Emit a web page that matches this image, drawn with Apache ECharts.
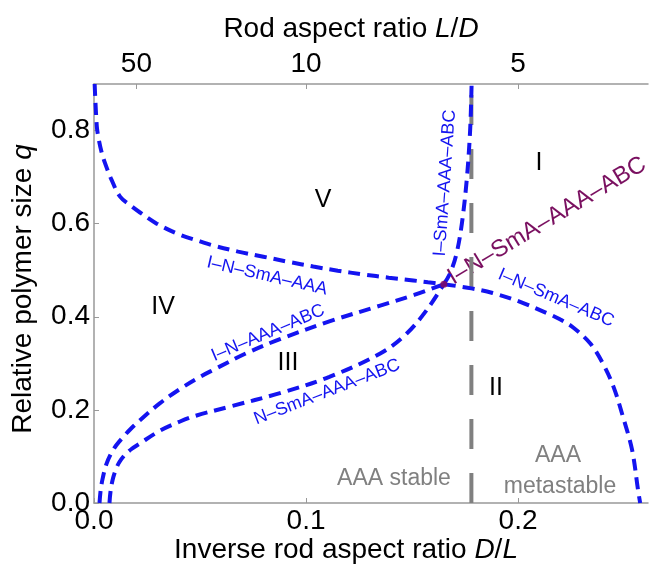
<!DOCTYPE html>
<html><head><meta charset="utf-8">
<script src="https://cdn.jsdelivr.net/npm/echarts@6/dist/echarts.min.js"></script>
<style>html,body{margin:0;padding:0;background:#fff}#c{width:650px;height:573px}</style>
</head><body><div id="c"></div>
<script>
// ---- data (D/L, q) ----
const inSmaAaaX = [0.0003, 0.0013, 0.002, 0.0035, 0.0052, 0.0083, 0.0123, 0.0175, 0.0217, 0.0296, 0.0406, 0.05, 0.0563, 0.068, 0.0799, 0.0917, 0.1034, 0.115, 0.127, 0.139, 0.1506, 0.1575, 0.165];
const inSmaAaaQ = [0.9, 0.81, 0.787, 0.755, 0.73, 0.694, 0.658, 0.638, 0.624, 0.600, 0.576, 0.562, 0.553, 0.54, 0.529, 0.518, 0.508, 0.499, 0.491, 0.484, 0.478, 0.474, 0.47];
const inSmaAbcX = [0.165, 0.178, 0.188, 0.201, 0.215, 0.22, 0.226, 0.234, 0.240, 0.245, 0.2495, 0.2538, 0.2566, 0.2576];
const inSmaAbcQ = [0.47, 0.461, 0.451, 0.432, 0.405, 0.394, 0.377, 0.343, 0.30, 0.25, 0.185, 0.114, 0.028, 0.0];
const inAaaAbcX = [0.0026, 0.0032, 0.0042, 0.0058, 0.008, 0.0105, 0.0138, 0.0175, 0.0217, 0.031, 0.0406, 0.05, 0.0563, 0.072, 0.0877, 0.111, 0.135, 0.151, 0.165];
const inAaaAbcQ = [0, 0.03, 0.055, 0.083, 0.106, 0.124, 0.142, 0.16, 0.178, 0.214, 0.245, 0.271, 0.286, 0.322, 0.352, 0.39, 0.424, 0.447, 0.47];
const nSmaAaaAbcX = [0.0073, 0.0078, 0.0088, 0.0103, 0.012, 0.0145, 0.0177, 0.0217, 0.031, 0.0406, 0.0484, 0.064, 0.0877, 0.111, 0.135, 0.1475, 0.157, 0.165];
const nSmaAaaAbcQ = [0, 0.025, 0.05, 0.072, 0.088, 0.103, 0.116, 0.128, 0.155, 0.175, 0.188, 0.207, 0.236, 0.271, 0.321, 0.364, 0.415, 0.47];
const iSmaAaaAbcX = [0.165, 0.168, 0.171, 0.1735, 0.1758, 0.1774, 0.1781];
const iSmaAaaAbcQ = [0.47, 0.494, 0.536, 0.6, 0.694, 0.80, 0.9];
const quadPoint = [0.165, 0.47];
const aaaBoundaryX = [0.178, 0.178];
const aaaBoundaryQ = [0, 0.9];
const bottomTicks = [0, 0.1, 0.2];
const topTickLD = [50, 10, 5];
const yTicks = [0, 0.2, 0.4, 0.6, 0.8];

const zip = (xs, ys) => xs.map((x, i) => [x, ys[i]]);
const FONT = 'Liberation Sans, Arial, sans-serif';
const BLUE = '#1414f0';
const XMAX = 0.2613;
const TICK_FS = 28, TITLE_FS = 28;

const chart = echarts.init(document.getElementById('c'));
const blueLine = (name, xs, ys) => ({
  name, type: 'line', data: zip(xs, ys), showSymbol: false, symbol: 'none',
  smooth: 0.35, z: 3,
  lineStyle: {color: BLUE, width: 4, type: [12, 7], cap: 'butt'}
});
const richTitle = {n: {fontSize: TITLE_FS, fontFamily: FONT, fill: '#000'}, i: {fontSize: TITLE_FS, fontFamily: FONT, fontStyle: 'italic', fill: '#000'}};
const label = (x, y, text, size, fill, deg) => ({
  type: 'text', x, y, rotation: (deg || 0) * Math.PI / 180,
  style: {text, font: size + 'px ' + FONT, fill, align: 'center', verticalAlign: 'middle'}
});

const option = {
  animation: false,
  grid: {left: 94, right: 2, top: 84, bottom: 70},
  xAxis: [{
    type: 'value', min: 0, max: XMAX, position: 'bottom',
    axisLine: {show: true, lineStyle: {color: '#999', width: 1.5}},
    axisTick: {show: true, inside: true, length: 5, lineStyle: {color: '#999'}, customValues: bottomTicks},
    axisLabel: {customValues: bottomTicks, formatter: v => v.toFixed(1), color: '#000', fontSize: TICK_FS, fontFamily: FONT, margin: 4},
    splitLine: {show: false}
  }, {
    type: 'value', min: 0, max: XMAX, position: 'top',
    axisLine: {show: true, lineStyle: {color: '#999', width: 1.5}},
    axisTick: {show: true, inside: true, length: 5, lineStyle: {color: '#999'}, customValues: topTickLD.map(v => 1 / v)},
    axisLabel: {customValues: topTickLD.map(v => 1 / v), formatter: v => String(Math.round(1 / v)), color: '#000', fontSize: TICK_FS, fontFamily: FONT, margin: 6},
    splitLine: {show: false}
  }],
  yAxis: {
    type: 'value', min: 0, max: 0.9,
    axisLine: {show: true, lineStyle: {color: '#999', width: 1.5}},
    axisTick: {show: true, inside: true, length: 5, lineStyle: {color: '#999'}, customValues: yTicks},
    axisLabel: {customValues: yTicks, formatter: v => v.toFixed(1), color: '#000', fontSize: TICK_FS, fontFamily: FONT, margin: 4},
    splitLine: {show: false}
  },
  series: [
    {name: 'AAA boundary', type: 'line', data: zip(aaaBoundaryX, aaaBoundaryQ), symbol: 'none', z: 2,
     lineStyle: {color: '#808080', width: 4, type: [30, 24]}},
    blueLine('I–N–SmA–AAA', inSmaAaaX, inSmaAaaQ),
    blueLine('I–N–SmA–ABC', inSmaAbcX, inSmaAbcQ),
    blueLine('I–N–AAA–ABC', inAaaAbcX, inAaaAbcQ),
    blueLine('N–SmA–AAA–ABC', nSmaAaaAbcX, nSmaAaaAbcQ),
    blueLine('I–SmA–AAA–ABC', iSmaAaaAbcX, iSmaAaaAbcQ),
    {name: 'quadruple', type: 'scatter', data: [quadPoint], symbolSize: 7, z: 5, itemStyle: {color: '#8a0a5a'}}
  ],
  graphic: [
    {type: 'text', x: 351, y: 29, style: {text: '{n|Rod aspect ratio }{i|L}{n|/}{i|D}', align: 'center', verticalAlign: 'middle', rich: richTitle}},
    {type: 'text', x: 346, y: 550, style: {text: '{n|Inverse rod aspect ratio }{i|D}{n|/}{i|L}', align: 'center', verticalAlign: 'middle', rich: richTitle}},
    {type: 'text', x: 23, y: 289, rotation: Math.PI / 2, style: {text: '{n|Relative polymer size }{i|q}', align: 'center', verticalAlign: 'middle', rich: richTitle}},
    label(323, 200, 'V', 25, '#000'),
    label(163, 307, 'IV', 25, '#000'),
    label(288, 363, 'III', 25, '#000'),
    label(496, 388, 'II', 25, '#000'),
    label(539, 163, 'I', 25, '#000'),
    label(394, 479, 'AAA stable', 23, '#808080'),
    label(558, 456, 'AAA', 23, '#808080'),
    label(560, 487, 'metastable', 23, '#808080'),
    label(267, 276, 'I–N–SmA–AAA', 18, BLUE, -13),
    label(268, 333, 'I–N–AAA–ABC', 18, BLUE, 23),
    label(327, 392, 'N–SmA–AAA–ABC', 18, BLUE, 21),
    label(445, 183, 'I–SmA–AAA–ABC', 18, BLUE, 86),
    label(556, 298, 'I–N–SmA–ABC', 18, BLUE, -23),
    label(547, 221, 'I–N–SmA–AAA–ABC', 24, '#7a1060', 31)
  ]
};
chart.setOption(option);
</script></body></html>
